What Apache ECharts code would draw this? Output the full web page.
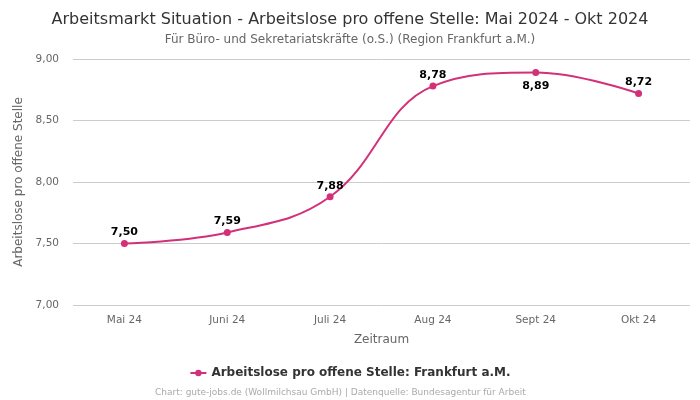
<!DOCTYPE html>
<html><head><meta charset="utf-8">
<script src="https://cdn.jsdelivr.net/npm/echarts@6/dist/echarts.min.js"></script>
<style>html,body{margin:0;padding:0;background:#fff}#c{width:700px;height:400px}</style>
</head><body><div id="c"></div>
<script>
const categories = ["Mai 24", "Juni 24", "Juli 24", "Aug 24", "Sept 24", "Okt 24"];
const values = [7.50, 7.59, 7.88, 8.78, 8.89, 8.72];
const labelBelow = [false, false, false, false, true, false];
const seriesName = "Arbeitslose pro offene Stelle: Frankfurt a.M.";
const fmt = v => v.toFixed(2).replace('.', ',');
const font = "DejaVu Sans";
const color = "#d3307a";
const chart = echarts.init(document.getElementById('c'));
chart.setOption({
  animation: false,
  textStyle: {fontFamily: font},
  title: [
    {text: "Arbeitsmarkt Situation - Arbeitslose pro offene Stelle: Mai 2024 - Okt 2024", left: 'center', top: 7,
     textStyle: {fontFamily: font, fontSize: 16, fontWeight: 'normal', color: '#333'}},
    {text: "Für Büro- und Sekretariatskräfte (o.S.) (Region Frankfurt a.M.)", left: 'center', top: 29,
     textStyle: {fontFamily: font, fontSize: 12, fontWeight: 'normal', color: '#666'}},
    {text: "Chart: gute-jobs.de (Wollmilchsau GmbH) | Datenquelle: Bundesagentur für Arbeit", left: 150, top: 383,
     textStyle: {fontFamily: font, fontSize: 9, fontWeight: 'normal', color: '#aaa'}}
  ],
  legend: {left: 'center', itemWidth: 16, itemHeight: 8, top: 362,
    textStyle: {fontFamily: font, fontSize: 12, fontWeight: 'bold', color: '#333'},
    data: [seriesName]},
  grid: {left: 73, right: 10, top: 59, bottom: 95},
  xAxis: {type: 'category', data: categories, boundaryGap: true,
    name: "Zeitraum", nameLocation: 'middle', nameGap: 29,
    nameTextStyle: {fontFamily: font, fontSize: 12, color: '#666'},
    axisLine: {show: false}, axisTick: {show: false},
    axisLabel: {fontFamily: font, fontSize: 10.5, color: '#666', margin: 10}},
  yAxis: {type: 'value', min: 7, max: 9, interval: 0.5,
    name: "Arbeitslose pro offene Stelle", nameLocation: 'middle', nameGap: 45,
    nameTextStyle: {fontFamily: font, fontSize: 12, color: '#666'},
    axisLabel: {fontFamily: font, fontSize: 10.5, color: '#666', formatter: fmt, margin: 14},
    splitLine: {lineStyle: {color: '#ccc'}}},
  series: [{
    name: seriesName, type: 'line', smooth: 0.4,
    symbol: 'circle', symbolSize: 7,
    itemStyle: {color: color}, lineStyle: {color: color, width: 2},
    data: values.map((v, i) => ({value: v, label: labelBelow[i] ? {position: 'bottom', distance: 5} : {position: 'top', distance: 2}})),
    label: {show: true, fontFamily: font, fontSize: 11, fontWeight: 'bold', color: '#000',
      formatter: p => fmt(p.value)}
  }]
});
</script></body></html>
